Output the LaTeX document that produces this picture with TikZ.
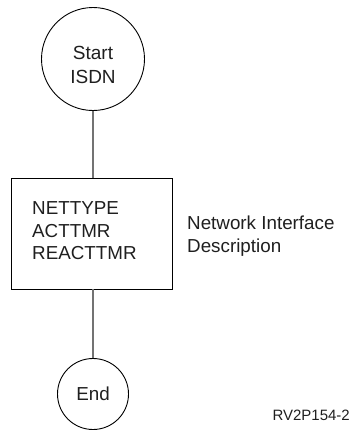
\documentclass[tikz,border=0pt]{standalone}
\usepackage{fontspec}
\setmainfont{Liberation Sans}
\begin{document}
\begin{tikzpicture}[x=1pt,y=-1pt,
  every node/.style={font=\fontsize{18.8}{22.5}\selectfont, text=black!88},
  circ/.style={draw=black, line width=0.9pt, circle, inner sep=0pt},
  boxst/.style={draw=black, line width=0.9pt, rectangle, minimum width=161pt, minimum height=111pt, inner sep=0pt},
  txt/.style={inner sep=0pt, align=left, anchor=west},
  conn/.style={draw=black!55, line width=1.2pt}]
\useasboundingbox (0,0) rectangle (353,434);
\node[circ, minimum size=103pt] (start) at (93,59) {};
\node[inner sep=0pt, align=center, font=\fontsize{19}{24}\selectfont] (starttxt) at (93,65) {Start\\ISDN};
\node[boxst] (box) at (92,233.5) {};
\node[txt] (params) at (32,231) {NETTYPE\\ACTTMR\\REACTTMR};
\node[txt] (lab) at (187,236) {Network Interface\\Description};
\node[circ, minimum size=71pt] (end) at (93,394) {End};
\node[anchor=east, inner sep=0pt, font=\fontsize{15}{18}\selectfont] (id) at (350,415) {RV2P154-2};
\draw[conn] (start.south) -- (start.south |- box.north);
\draw[conn] (end.north |- box.south) -- (end.north);
\end{tikzpicture}
\end{document}
